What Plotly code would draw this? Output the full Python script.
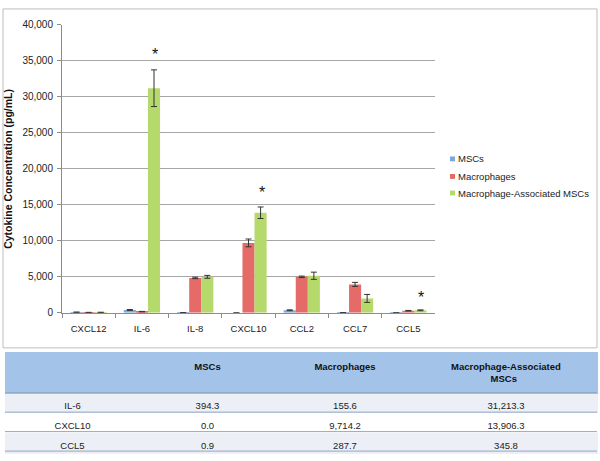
import plotly.graph_objects as go

categories = ["CXCL12", "IL-6", "IL-8", "CXCL10", "CCL2", "CCL7", "CCL5"]
series_names = ["MSCs", "Macrophages", "Macrophage-Associated MSCs"]
mscs = [80, 394.3, 30, 0.0, 350, 30, 0.9]
macrophages = [50, 155.6, 4850, 9714.2, 5000, 3950, 287.7]
mam = [60, 31213.3, 5000, 13906.3, 5150, 2000, 345.8]
mscs_err = [20, 60, 10, 0, 60, 10, 5]
macrophages_err = [15, 40, 100, 540, 100, 280, 40]
mam_err = [20, 2550, 200, 800, 500, 550, 60]
colors = ["#7ea8dc", "#e56b69", "#b5d96b"]

star_categories = ["IL-6", "CXCL10", "CCL5"]
star_values = [35900, 16700, 2170]

table_rows = ["IL-6", "CXCL10", "CCL5"]
table_mscs = ["394.3", "0.0", "0.9"]
table_mac = ["155.6", "9,714.2", "287.7"]
table_mam = ["31,213.3", "13,906.3", "345.8"]
table_header = ["", "<b>MSCs</b>", "<b>Macrophages</b>",
                "<b>Macrophage-Associated<br>" + "&nbsp;" * 15 + "MSCs</b>"]

W, H = 600, 461
def py(px):
    return 1 - px / H

fig = go.Figure()
for name, vals, errs, col in zip(series_names, [mscs, macrophages, mam],
                                 [mscs_err, macrophages_err, mam_err], colors):
    fig.add_trace(go.Bar(
        x=categories, y=vals, name=name, marker=dict(color=col, line=dict(width=0)),
        error_y=dict(type="data", array=errs, color="#333333", thickness=1, width=3),
        xaxis="x", yaxis="y", showlegend=False,
    ))

fig.add_trace(go.Table(
    domain=dict(x=[5 / W, 597 / W], y=[0, py(356)]),
    columnwidth=[135, 135, 140, 182],
    header=dict(
        values=table_header,
        fill_color="#a3c3e9", line=dict(color="#a3c3e9", width=1),
        font=dict(family="Liberation Sans, Arial", size=9.5, color="#111111"),
        align="center", height=41,
    ),
    cells=dict(
        values=[table_rows, table_mscs, table_mac, table_mam],
        fill_color=[["#eceff5", "#ffffff", "#eceff5"]] * 4,
        line=dict(color=[["#eceff5", "#ffffff", "#eceff5"]] * 4, width=1),
        font=dict(family="Liberation Sans, Arial", size=9.5, color="#222222"),
        align="center", height=20,
    ),
))

annotations = []
for c, v in zip(star_categories, star_values):
    annotations.append(dict(x=c, y=v, xref="x", yref="y", text="*", showarrow=False,
                            xshift=13, font=dict(size=16, color="#111111",
                                                 family="Liberation Sans, Arial")))

shapes = [dict(type="rect", xref="paper", yref="paper", x0=3 / W, x1=597 / W,
               y0=py(351), y1=py(3), line=dict(color="#bdbdbd", width=1),
               fillcolor="rgba(0,0,0,0)", layer="below")]

# legend drawn from the series names / colours
legend_y = [157, 175, 192]
for name, col, ly in zip(series_names, colors, legend_y):
    shapes.append(dict(type="rect", xref="paper", yref="paper",
                       x0=450 / W, x1=455 / W, y0=py(ly + 2.5), y1=py(ly - 2.5),
                       fillcolor=col, line=dict(width=0)))
    annotations.append(dict(x=456 / W, y=py(ly), xref="paper", yref="paper",
                            text=name, showarrow=False, xanchor="left", yanchor="middle",
                            font=dict(size=9.5, color="#222222",
                                      family="Liberation Sans, Arial")))

# horizontal row separators of the table
for yy in [397, 417, 437, 457]:
    shapes.append(dict(type="line", xref="paper", yref="paper", x0=5 / W, x1=597 / W,
                       y0=py(yy), y1=py(yy), line=dict(color="#8fa6c8", width=1),
                       layer="above"))

fig.update_layout(
    width=W, height=H, margin=dict(l=0, r=0, t=0, b=0),
    paper_bgcolor="white", plot_bgcolor="white",
    font=dict(family="Liberation Sans, Arial", size=10, color="#222222"),
    barmode="group", bargap=0.32, bargroupgap=0, showlegend=False,
    xaxis=dict(domain=[62 / W, 435 / W], showline=True, linecolor="#8c8c8c",
               ticks="outside", tickson="boundaries", ticklen=4, tickcolor="#8c8c8c",
               ticklabelstandoff=7,
               tickfont=dict(size=9.5, color="#222222"), showgrid=False),
    yaxis=dict(domain=[py(315), py(19.5)], range=[0, 40000], dtick=5000,
               tickformat=",d", showline=True, linecolor="#8c8c8c",
               ticks="outside", ticklen=4, tickcolor="#8c8c8c",
               gridcolor="#a6a6a6", gridwidth=1, ticklabelstandoff=2,
               tickfont=dict(size=10, color="#222222"),
               title=dict(text="<b>Cytokine Concentration (pg/mL)</b>",
                          font=dict(size=10.5, color="#111111"), standoff=7)),
    annotations=annotations, shapes=shapes,
)

fig.write_html("out.html", config={"displayModeBar": False},
               post_script="document.body.style.margin='0';document.body.style.overflow='hidden';")
